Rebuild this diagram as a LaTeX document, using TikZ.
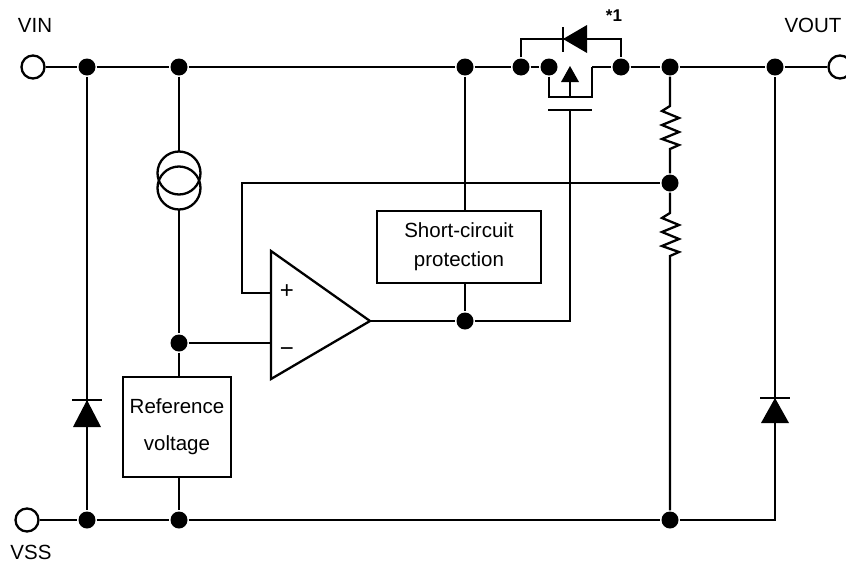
\documentclass[tikz,border=0pt]{standalone}
\usepackage{fontspec}
\setmainfont{Liberation Sans}
\begin{document}
\begin{tikzpicture}[x=1pt,y=-1pt,line width=2.3pt,line join=miter,
  dot/.style={circle,fill,inner sep=0pt,minimum size=17pt},
  term/.style={circle,draw,fill=white,inner sep=0pt,minimum size=23pt,line width=2.3pt},
  box/.style={draw,line width=2.3pt,align=center,inner sep=0pt},
  lbl/.style={font=\fontsize{20.5}{24}\selectfont,inner sep=0pt}]
\useasboundingbox (0,0) rectangle (846,568);
% terminals
\node[term] (vin) at (33,67) {};
\node[term] (vss) at (27,520) {};
\node[term] (vout) at (840,67) {};
\node[lbl] (lvin) at (35,25) {VIN};
\node[lbl] (lvout) at (813,25) {VOUT};
\node[lbl] (lvss) at (31,552) {VSS};
\node[lbl,font=\fontsize{17}{20}\selectfont\bfseries] (lstar) at (614,16) {*1};
% dots
\node[dot] (t1) at (87,67) {};
\node[dot] (t2) at (179,67) {};
\node[dot] (t3) at (465,67) {};
\node[dot] (t4) at (521,67) {};
\node[dot] (t5) at (549,67) {};
\node[dot] (t6) at (621,67) {};
\node[dot] (t7) at (670,67) {};
\node[dot] (t8) at (775,67) {};
\node[dot] (b1) at (87,520) {};
\node[dot] (b2) at (179,520) {};
\node[dot] (b3) at (670,520) {};
\node[dot] (jm) at (179,343) {};
\node[dot] (jr) at (670,183) {};
\node[dot] (jo) at (465,321) {};
\coordinate (bc) at (775,520);
\coordinate (d1) at (592,67);
% rails
\draw (vin) -- (t1) -- (t2) -- (t3) -- (t4) -- (t5);
\draw (d1) -- (t6) -- (t7) -- (t8) -- (vout);
\draw (vss) -- (b1) -- (b2) -- (b3) -- (bc) -- (t8);
\draw (t1) -- (b1);
% diodes (left, right)
\fill (73,427) -- (101,427) -- (87,400) -- cycle;
\draw (72,400) -- (102,400);
\fill (761,423) -- (789,423) -- (775,398) -- cycle;
\draw (760,398) -- (790,398);
% current source
\draw (179,173) circle (21.5);
\draw (179,188) circle (21.5);
\draw (t2) -- (179,151.5);
\draw (179,209.5) -- (jm);
% reference box
\node[box,minimum width=108pt,minimum height=100pt,font=\fontsize{20.5}{37}\selectfont] (ref) at (177,427) {Reference\\voltage};
\draw (jm) -- (jm |- ref.north);
\draw (ref.south -| b2) -- (b2);
% op-amp
\coordinate (inp) at (271,293);
\coordinate (inm) at (271,343);
\coordinate (out) at (370,321);
\draw (271,251) -- (out) -- (271,379) -- cycle;
\node[lbl,font=\fontsize{24}{28}\selectfont] (plus) at (287,292) {+};
\node[lbl,font=\fontsize{24}{28}\selectfont] (minus) at (287,352) {\textminus};
\draw (jm) -- (inm);
\draw (inp) -- (242,293) -- (242,183) -- (jr);
% short circuit protection
\node[box,minimum width=164pt,minimum height=72pt,font=\fontsize{20.5}{29}\selectfont] (sc) at (459,247) {Short-circuit\\protection};
\draw (t3) -- (t3 |- sc.north);
\draw (jo |- sc.south) -- (jo);
\draw (out) -- (jo) -- (570,321) -- (570,110);
% MOSFET
\draw (t5) -- (549,97) -- (592,97) -- (d1);
\draw (570,97) -- (570,82);
\fill (561,82) -- (579,82) -- (570,66) -- cycle;
\draw (548,110) -- (592,110);
% body diode
\draw (t4) -- (521,39) -- (621,39) -- (t6);
\fill (587,25) -- (587,53) -- (563,39) -- cycle;
\draw (563,27) -- (563,52);
% resistors
\draw (t7) -- (670,106) -- (662,111) -- (679,118) -- (662,125) -- (679,132) -- (662,139) -- (679,145) -- (670,149) -- (jr);
\draw (jr) -- (670,213) -- (662,218) -- (679,225) -- (662,232) -- (679,239) -- (662,246) -- (679,252) -- (670,256) -- (b3);
\end{tikzpicture}
\end{document}
